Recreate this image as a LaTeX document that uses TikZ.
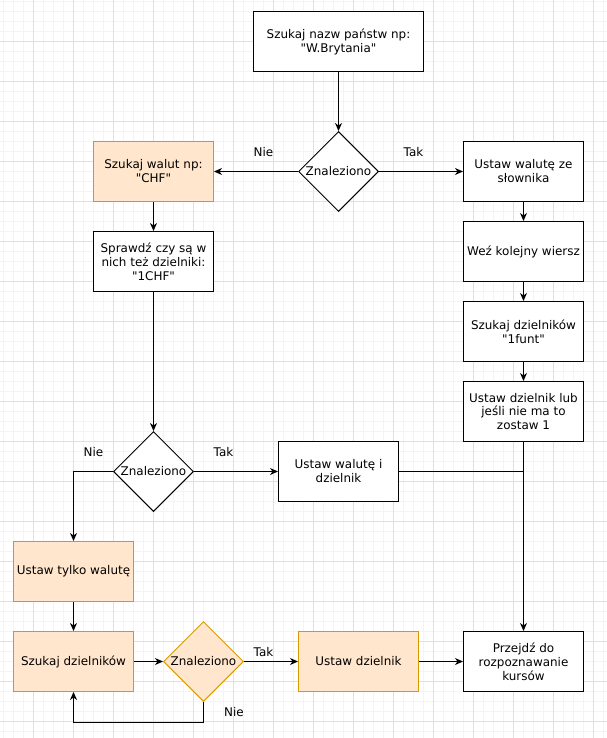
\documentclass[tikz,border=0pt]{standalone}
\usepackage{fontspec}
\setmainfont{DejaVu Sans}
\newfontfamily\dvfont{DejaVu Sans}
\usetikzlibrary{shapes.geometric,arrows.meta,calc}
\definecolor{orangefill}{HTML}{FFE6CC}
\definecolor{orangeline}{HTML}{D79B00}
\definecolor{minorgrid}{HTML}{F4F4F4}
\definecolor{majorgrid}{HTML}{E0E0E0}
\begin{document}
\begin{tikzpicture}[x=1bp,y=-1bp,
  box/.style={draw=black,line width=1bp,fill=white,minimum width=120bp,minimum height=60bp,inner sep=0pt,align=center,font=\dvfont\fontsize{12}{14}\selectfont},
  obox/.style={box,draw=orangeline,fill=orangefill},
  dec/.style={diamond,draw=black,fill=white,line width=1bp,minimum width=80bp,minimum height=80bp,inner sep=0pt,aspect=1,label={[font=\dvfont\fontsize{12}{14}\selectfont]center:Znaleziono}},
  odec/.style={dec,draw=orangeline,fill=orangefill},
  arr/.style={line width=1bp,-{Stealth[length=8bp,width=7bp,inset=2.5bp]}},
  con/.style={line width=1bp},
  lbl/.style={font=\dvfont\fontsize{12}{14}\selectfont,inner sep=0pt}
]
\useasboundingbox (0,0) rectangle (607,738);
\fill[white] (0,0) rectangle (607,738);
% grid
\foreach \x in {3.5,13.5,...,604} \draw[minorgrid,line width=1bp] (\x,0) -- (\x,738);
\foreach \y in {1.5,11.5,...,737} \draw[minorgrid,line width=1bp] (0,\y) -- (607,\y);
\foreach \x in {33.5,73.5,...,604} \draw[majorgrid,line width=1bp] (\x,0) -- (\x,738);
\foreach \y in {41.5,81.5,...,737} \draw[majorgrid,line width=1bp] (0,\y) -- (607,\y);

% nodes
\node[box,minimum width=170bp] (n1) at (338.5,41.5) {Szukaj nazw państw np:\\"W.Brytania"};
\node[dec] (d1) at (338.5,171.5) {};
\node[obox] (walut) at (153.5,171.5) {Szukaj walut np:\\"CHF"};
\node[box] (slow) at (523.5,171.5) {Ustaw walutę ze\\słownika};
\node[box] (wez) at (523.5,251.5) {Weź kolejny wiersz};
\node[box] (funt) at (523.5,331.5) {Szukaj dzielników\\"1funt"};
\node[box] (lub) at (523.5,411.5) {Ustaw dzielnik lub\\jeśli nie ma to\\zostaw 1};
\node[box] (spr) at (153.5,261.5) {Sprawdź czy są w\\nich też dzielniki:\\"1CHF"};
\node[dec] (d2) at (153.5,471.5) {};
\node[box] (uwd) at (338.5,471.5) {Ustaw walutę i\\dzielnik};
\node[obox] (tylko) at (73.5,571.5) {Ustaw tylko walutę};
\node[obox] (szd) at (73.5,661.5) {Szukaj dzielników};
\node[odec] (d3) at (203.5,661.5) {};
\node[obox] (ustdz) at (358.5,661.5) {Ustaw dzielnik};
\node[box] (przejdz) at (523.5,661.5) {Przejdź do\\rozpoznawanie\\kursów};

% connectors
\draw[arr] (n1) -- (d1);
\draw[arr] (d1) -- (walut);
\draw[arr] (d1) -- (slow);
\draw[arr] (walut) -- (spr);
\draw[arr] (slow) -- (wez);
\draw[arr] (wez) -- (funt);
\draw[arr] (funt) -- (lub);
\draw[arr] (spr) -- (d2);
\draw[arr] (d2.west) -| (tylko.north);
\draw[arr] (d2) -- (uwd);
\draw[con] (uwd.east) -- (uwd.east -| lub.south);
\draw[arr] (lub) -- (przejdz);
\draw[arr] (tylko) -- (szd);
\draw[arr] (szd) -- (d3);
\draw[arr] (d3) -- (ustdz);
\coordinate (loop) at ($(d3.south)+(0,20)$);
\draw[arr] (d3.south) -- (loop) -| (szd.south);
\draw[arr] (ustdz) -- (przejdz);

% labels
\node[lbl] (l1) at (263.5,152) {Nie};
\node[lbl] (l2) at (413.5,152) {Tak};
\node[lbl] (l3) at (93.5,452) {Nie};
\node[lbl] (l4) at (223.5,452) {Tak};
\node[lbl] (l5) at (263.5,652) {Tak};
\node[lbl] (l6) at (234,712) {Nie};
\end{tikzpicture}
\end{document}
